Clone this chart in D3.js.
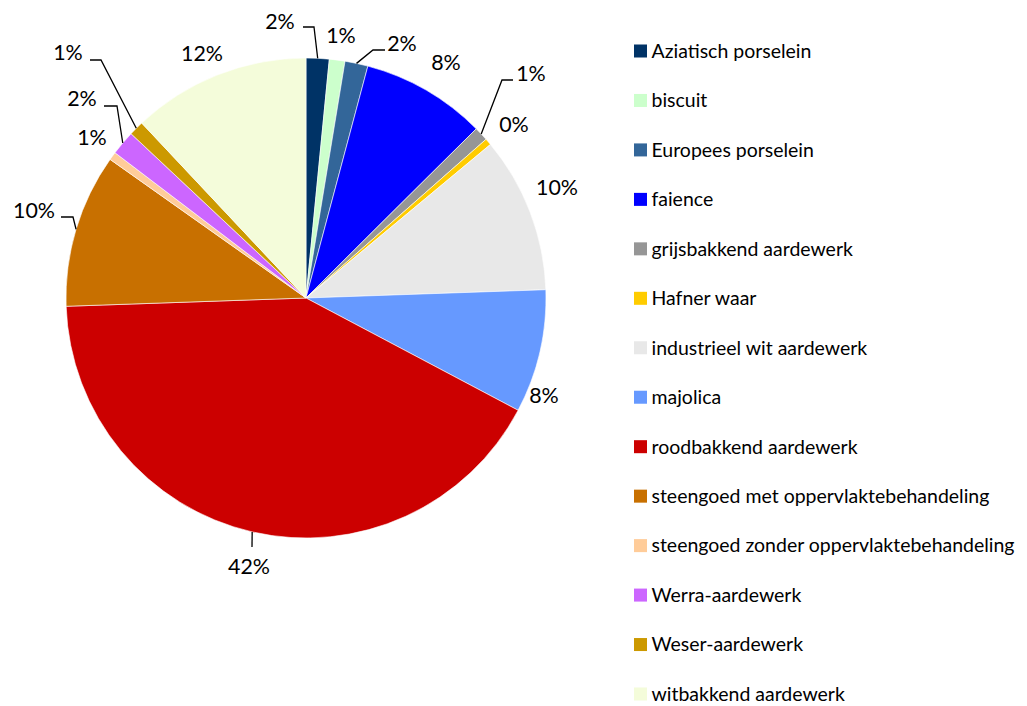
<!DOCTYPE html>
<html>
<head>
<meta charset="utf-8">
<script src="https://cdn.jsdelivr.net/npm/d3@7/dist/d3.min.js"></script>
<style>
  html, body { margin: 0; padding: 0; background: #ffffff; }
  svg { display: block; }
  text { font-family: Lato, "Open Sans", sans-serif; fill: #000; }
</style>
</head>
<body>
<svg id="chart" width="1027" height="706"></svg>
<script>
// ---- Data ----
const categories = [
  "Aziatisch porselein", "biscuit", "Europees porselein", "faience",
  "grijsbakkend aardewerk", "Hafner waar", "industrieel wit aardewerk",
  "majolica", "roodbakkend aardewerk", "steengoed met oppervlaktebehandeling",
  "steengoed zonder oppervlaktebehandeling", "Werra-aardewerk",
  "Weser-aardewerk", "witbakkend aardewerk"
];
const values = [1.55, 1.05, 1.55, 8.4, 0.95, 0.45, 10.5, 8.3, 41.7, 10.35, 0.55, 1.65, 1.0, 12.0];
const percentLabels = ["2%", "1%", "2%", "8%", "1%", "0%", "10%", "8%", "42%", "10%", "1%", "2%", "1%", "12%"];
const colors = [
  "#003366", "#CCFFCC", "#336699", "#0000FF", "#969696", "#FFCC00", "#E8E8E8",
  "#6699FF", "#CC0000", "#C87000", "#FFCC99", "#CC66FF", "#CC9900", "#F4FCDA"
];

// ---- Layout ----
const cx = 306, cy = 298, radius = 240;
// label text centres and leader-line bends (layout only)
const labelLayout = [
  { x: 280, y: 21, bend: [314, 27], end: [303, 27] },
  { x: 341, y: 35 },
  { x: 402, y: 43, bend: [373, 50], end: [385, 50] },
  { x: 446, y: 62 },
  { x: 531, y: 73, bend: [502, 80], end: [513, 80] },
  { x: 514, y: 124 },
  { x: 557, y: 187 },
  { x: 544, y: 395 },
  { x: 249, y: 566, end: [252, 547] },
  { x: 34, y: 210, bend: [73, 217], end: [61, 217] },
  { x: 92, y: 137 },
  { x: 82, y: 98, bend: [117, 106], end: [104, 106] },
  { x: 68, y: 52, bend: [101, 60], end: [90, 60] },
  { x: 202, y: 53 }
];

const svg = d3.select("#chart");

// font fitting helper: scale a font-size so that a sample string has a target width
function fitSize(sample, targetWidth, base) {
  const t = svg.append("text").style("font-size", base + "px").text(sample);
  const w = t.node().getComputedTextLength();
  t.remove();
  return base * targetWidth / w;
}
const labelSize = fitSize("12%", 42, 24);
const legendSize = fitSize("Aziatisch porselein", 160, 20);

const data = categories.map((c, i) => ({ name: c, value: values[i], label: percentLabels[i], color: colors[i], idx: i }));

const pie = d3.pie().value(d => d.value).sort(null);
const arcs = pie(data);
const arc = d3.arc().innerRadius(0).outerRadius(radius);

const g = svg.append("g").attr("transform", `translate(${cx},${cy})`);
g.selectAll("path.slice")
  .data(arcs)
  .join("path")
  .attr("class", "slice")
  .attr("d", arc)
  .attr("fill", d => d.data.color)
  .attr("stroke", "#ffffff")
  .attr("stroke-width", 0.6);

// leader lines
arcs.forEach((a, i) => {
  const L = labelLayout[i];
  if (!L.end) return;
  const mid = (a.startAngle + a.endAngle) / 2;
  const p0 = [cx + radius * Math.sin(mid), cy - radius * Math.cos(mid)];
  const pts = [p0];
  if (L.bend) pts.push(L.bend);
  pts.push(L.end);
  svg.append("path")
    .attr("d", d3.line()(pts))
    .attr("fill", "none")
    .attr("stroke", "#000")
    .attr("stroke-width", 1.3);
});

// percent labels
svg.selectAll("text.pct")
  .data(arcs)
  .join("text")
  .attr("class", "pct")
  .attr("x", (d, i) => labelLayout[i].x)
  .attr("y", (d, i) => labelLayout[i].y)
  .attr("dy", "0.36em")
  .attr("text-anchor", "middle")
  .style("font-size", labelSize + "px")
  .text(d => d.data.label);

// legend
const legendY = d3.scalePoint().domain(categories).range([51, 694]);
const leg = svg.append("g");
const items = leg.selectAll("g.item")
  .data(data)
  .join("g")
  .attr("class", "item")
  .attr("transform", d => `translate(634,${legendY(d.name)})`);
items.append("rect")
  .attr("x", 0).attr("y", -6.5)
  .attr("width", 13).attr("height", 13)
  .attr("fill", d => d.color);
items.append("text")
  .attr("x", 17.5)
  .attr("y", 0)
  .attr("dy", "0.35em")
  .style("font-size", legendSize + "px")
  .text(d => d.name);
</script>
</body>
</html>
